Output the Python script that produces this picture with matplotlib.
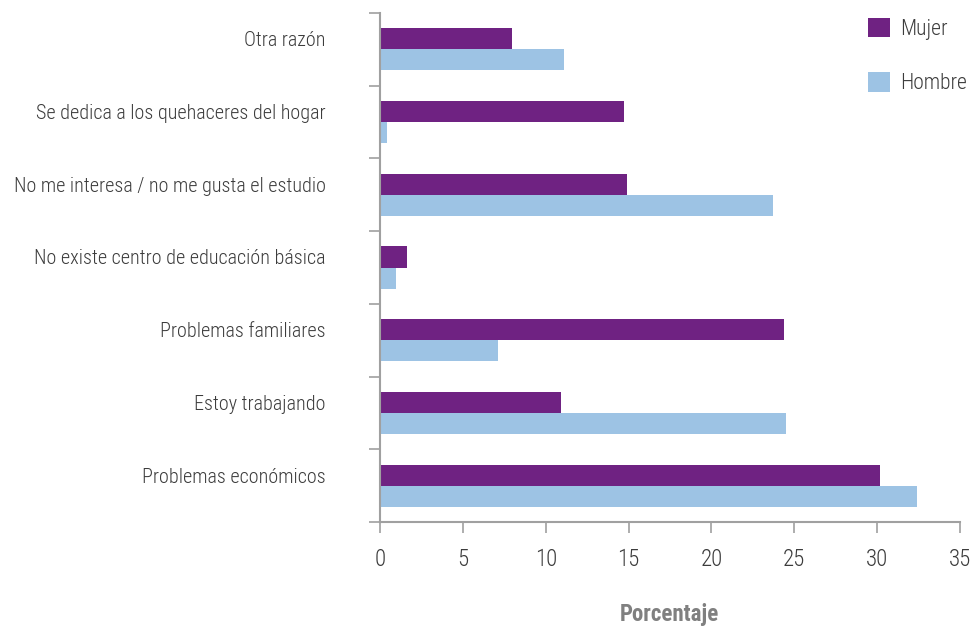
import matplotlib
matplotlib.use('Agg')
import matplotlib.pyplot as plt
import numpy as np

# categorias de abajo hacia arriba
categorias = ['Problemas económicos', 'Estoy trabajando', 'Problemas familiares',
              'No existe centro de educación básica',
              'No me interesa / no me gusta el estudio',
              'Se dedica a los quehaceres del hogar', 'Otra razón']
mujer = [30.2, 10.95, 24.35, 1.6, 14.9, 14.7, 7.95]
hombre = [32.4, 24.5, 7.1, 0.95, 23.7, 0.4, 11.1]
xticks = [0, 5, 10, 15, 20, 25, 30, 35]

plt.rcParams['font.family'] = ['Roboto Condensed', 'Sofia Sans Condensed', 'DejaVu Sans']

c_mujer = '#6f2282'
c_hombre = '#9dc3e4'
gris = '#a0a0a0'
texto = '#3c3c3c'

fig = plt.figure(figsize=(9.73, 6.27), dpi=100)
ax = fig.add_axes([380 / 973, 1 - 522 / 627, 580 / 973, 509 / 627])

y = np.arange(len(categorias))
h = 0.29
ax.barh(y + 0.645, mujer, height=h, color=c_mujer, label='Mujer')
ax.barh(y + 0.355, hombre, height=h, color=c_hombre, label='Hombre')

ax.set_xlim(0, 35)
ax.set_ylim(0, len(categorias))
ax.set_xticks(xticks)
ax.set_xticklabels([str(v) for v in xticks], fontsize=16.5, color=texto, fontweight='light')
ax.set_yticks(y + 0.645)
ax.set_yticklabels(categorias, fontsize=14.5, color=texto, fontweight='light')
ax.set_yticks(np.arange(len(categorias) + 1), minor=True)
ax.tick_params(axis='y', which='major', length=0, pad=39)
ax.tick_params(axis='y', which='minor', length=8, width=1.2, color=gris, direction='out')
ax.tick_params(axis='x', length=8, width=1.2, color=gris, direction='out', pad=11)

for s in ['top', 'right']:
    ax.spines[s].set_visible(False)
for s in ['left', 'bottom']:
    ax.spines[s].set_color(gris)
    ax.spines[s].set_linewidth(1.5)

fig.text(669 / 973, 1 - 615 / 627, 'Porcentaje', ha='center', va='center',
         fontsize=16.5, fontweight='bold', color='#808080')

fig.legend(loc='upper left', bbox_to_anchor=(868 / 973, 1 - 18 / 627), frameon=False,
           handlelength=1.0, handleheight=1.0, handletextpad=0.5,
           labelspacing=1.5, borderpad=0, borderaxespad=0, labelcolor=texto,
           prop={'size': 15.5, 'weight': 'light'})

fig.savefig('out.png', dpi=100)
